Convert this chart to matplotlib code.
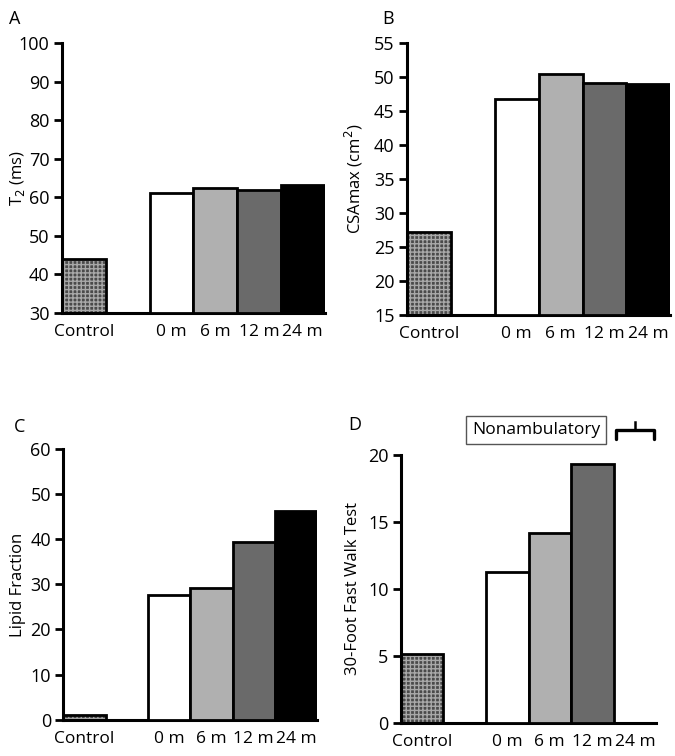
import numpy as np
import matplotlib
matplotlib.use("Agg")
import matplotlib.pyplot as plt

plt.rcParams['font.family'] = ['Open Sans', 'DejaVu Sans']

# categories (slot 1 is an empty gap between control and the patient bars)
labels = ['Control', '0 m', '6 m', '12 m', '24 m']
xpos = [0, 2, 3, 4, 5]

# values
t2 = [44.0, 61.0, 62.5, 62.0, 63.3]
csa = [27.3, 46.8, 50.4, 49.2, 49.0]
lipid = [1.0, 27.6, 29.3, 39.3, 46.2]
walk = [5.1, 11.3, 14.2, 19.3, np.nan]   # 24 m: nonambulatory

bar_cols = ['#5a5a5a', 'white', '#b0b0b0', '#6a6a6a', 'black']

fig = plt.figure(figsize=(6.75, 7.56), dpi=100)

def panel(rect, vals, ylim, yticks, ylabel, labx):
    ax = fig.add_axes(rect)
    for i, (x, v) in enumerate(zip(xpos, vals)):
        if np.isnan(v):
            continue
        base = ylim[0]
        if i == 0:
            # checkered control bar
            ax.bar(x, v - base, bottom=base, width=1.0, color='#4a4a4a',
                   hatch='++++', edgecolor='#a8a8a8', linewidth=0, zorder=2)
            ax.bar(x, v - base, bottom=base, width=1.0, fill=False,
                   edgecolor='black', linewidth=2, zorder=3)
        else:
            ax.bar(x, v - base, bottom=base, width=1.0, color=bar_cols[i],
                   edgecolor='black', linewidth=2, zorder=3)
    ax.set_xlim(-0.5, 5.5)
    ax.set_ylim(*ylim)
    ax.set_yticks(yticks)
    ax.set_xticks(xpos)
    ax.set_xticklabels(labels, fontsize=12.5)
    ax.tick_params(axis='x', length=0, pad=8)
    ax.tick_params(axis='y', labelsize=13, length=6, width=2, direction='out',
                   pad=3)
    for s in ['top', 'right']:
        ax.spines[s].set_visible(False)
    ax.spines['left'].set_linewidth(2.2)
    ax.spines['bottom'].set_linewidth(2.2)
    ax.set_ylabel(ylabel, fontsize=12)
    ax.yaxis.set_label_coords(labx, 0.5)
    return ax

axA = panel([0.092, 0.586, 0.389, 0.357], t2, (30, 100), range(30, 101, 10),
            'T$_2$ (ms)', -0.133)
axB = panel([0.603, 0.583, 0.390, 0.360], csa, (15, 55), range(15, 56, 5),
            'CSAmax (cm$^2$)', -0.16)
axC = panel([0.094, 0.048, 0.376, 0.358], lipid, (0, 60), range(0, 61, 10),
            'Lipid Fraction', -0.146)
axD = panel([0.594, 0.044, 0.378, 0.354], walk, (0, 20), range(0, 21, 5),
            '30-Foot Fast Walk Test', -0.155)

# Nonambulatory label and bracket above 24 m
axD.text(2.68, 21.9, 'Nonambulatory', fontsize=12.5, ha='center', va='center',
         bbox=dict(boxstyle='square,pad=0.35', fc='white', ec='#555555', lw=1),
         clip_on=False)
axD.plot([4.55, 4.55, 5.45, 5.45], [21.2, 21.85, 21.85, 21.2], color='black',
         lw=2.4, clip_on=False, solid_capstyle='round', solid_joinstyle='round')
axD.plot([5.0, 5.0], [21.85, 22.5], color='black', lw=1.8, clip_on=False)

for txt, x, y in [('A', 0.013, 0.975), ('B', 0.566, 0.975),
                  ('C', 0.020, 0.435), ('D', 0.516, 0.438)]:
    fig.text(x, y, txt, fontsize=13, ha='left', va='center')

fig.savefig('out.png', dpi=100)
